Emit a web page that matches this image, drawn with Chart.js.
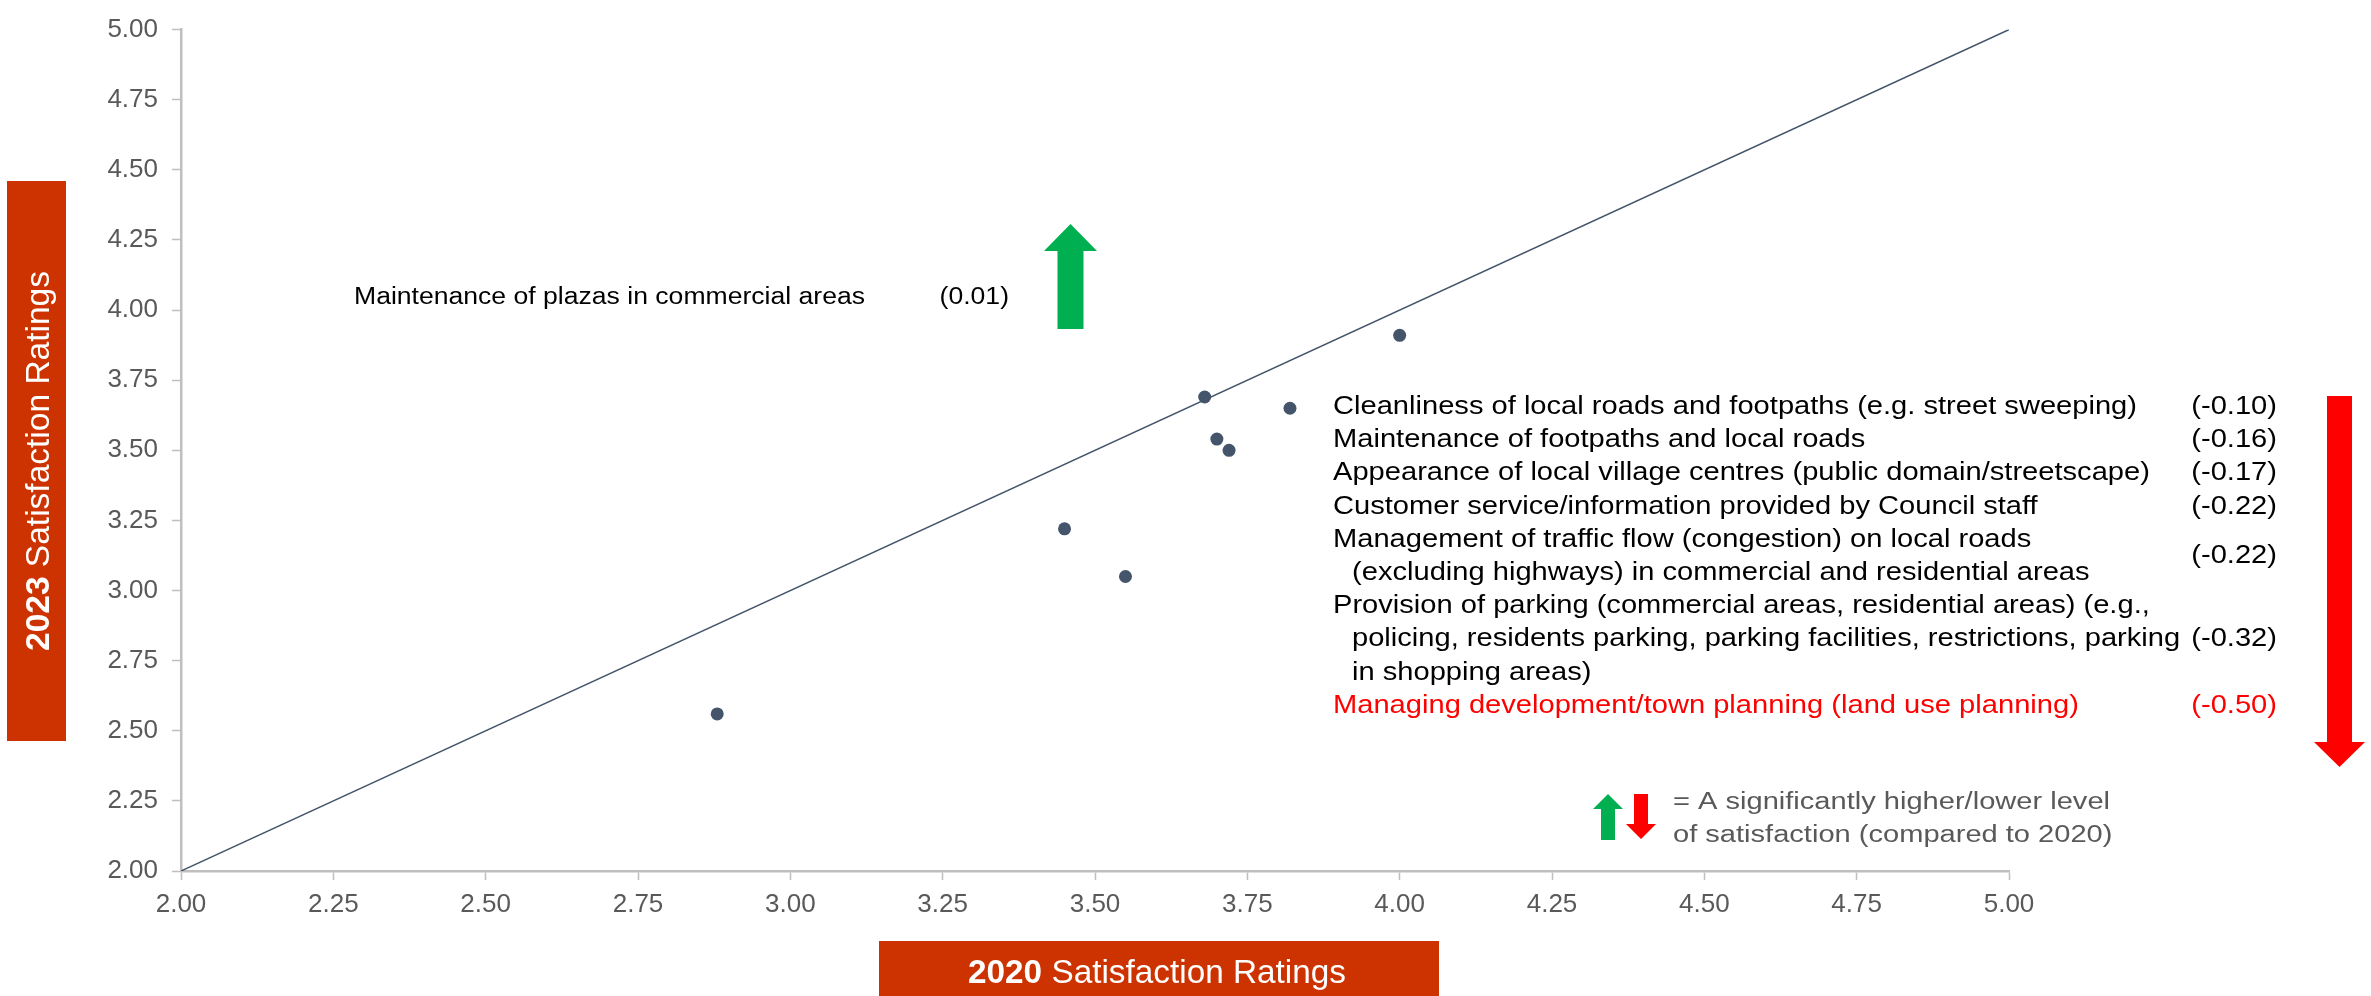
<!DOCTYPE html>
<html>
<head>
<meta charset="utf-8">
<script src="https://cdn.jsdelivr.net/npm/chart.js@4.4.0/dist/chart.umd.min.js"></script>
<style>
  body { margin: 0; background: #fff; }
  #wrap { width: 2371px; height: 996px; }
</style>
</head>
<body>
<div id="wrap"><canvas id="satChart" width="2371" height="996"></canvas></div>
<script>
// Chart data
const ratings2020 = [2.88, 3.45, 3.55, 3.68, 3.70, 3.72, 3.82, 4.00];
const ratings2023 = [2.56, 3.22, 3.05, 3.69, 3.54, 3.50, 3.65, 3.91];
const parityX = [2, 5];
const parityY = [2, 5];
const axisTicks = [2.00, 2.25, 2.50, 2.75, 3.00, 3.25, 3.50, 3.75, 4.00, 4.25, 4.50, 4.75, 5.00];

// Annotation texts
const upItems = ['Maintenance of plazas in commercial areas'];
const upChanges = ['(0.01)'];
const downItems = [
  ['Cleanliness of local roads and footpaths (e.g. street sweeping)'],
  ['Maintenance of footpaths and local roads'],
  ['Appearance of local village centres (public domain/streetscape)'],
  ['Customer service/information provided by Council staff'],
  ['Management of traffic flow (congestion) on local roads', '(excluding highways) in commercial and residential areas'],
  ['Provision of parking (commercial areas, residential areas) (e.g.,', 'policing, residents parking, parking facilities, restrictions, parking', 'in shopping areas)'],
  ['Managing development/town planning (land use planning)']
];
const downChanges = ['(-0.10)', '(-0.16)', '(-0.17)', '(-0.22)', '(-0.22)', '(-0.32)', '(-0.50)'];
const legendLines = ['= A significantly higher/lower level', 'of satisfaction (compared to 2020)'];
const yTitle = ['2023', ' Satisfaction Ratings'];
const xTitle = ['2020', ' Satisfaction Ratings'];

const FONT = '"Liberation Sans", Arial, sans-serif';
const BOX_RED = '#CC3300';
const GREEN = '#00B050';
const RED = '#FF0000';

// draw text squeezed/stretched horizontally by sx
function drawText(ctx, text, x, y, font, color, align, sx) {
  ctx.save();
  ctx.translate(x, y);
  ctx.scale(sx, 1);
  ctx.font = font;
  ctx.fillStyle = color;
  ctx.textAlign = align;
  ctx.textBaseline = 'alphabetic';
  ctx.fillText(text, 0, 0);
  ctx.restore();
}

function fitScale(ctx, text, font, target) {
  ctx.font = font;
  return target / ctx.measureText(text).width;
}

// Title with bold year then regular text, centred at 0,0 of current transform
function drawTitle(ctx, parts, target) {
  const boldFont = 'bold 33px ' + FONT;
  const regFont = '33px ' + FONT;
  ctx.font = boldFont;
  const w1 = ctx.measureText(parts[0]).width;
  ctx.font = regFont;
  const w2 = ctx.measureText(parts[1]).width;
  const sx = target / (w1 + w2);
  const start = -target / 2;
  drawText(ctx, parts[0], start, 0, boldFont, '#fff', 'left', sx);
  drawText(ctx, parts[1], start + w1 * sx, 0, regFont, '#fff', 'left', sx);
}

function arrowUp(ctx, cx, shaftW, headW, top, headBase, bottom, color) {
  ctx.fillStyle = color;
  ctx.beginPath();
  ctx.moveTo(cx, top);
  ctx.lineTo(cx + headW / 2, headBase);
  ctx.lineTo(cx + shaftW / 2, headBase);
  ctx.lineTo(cx + shaftW / 2, bottom);
  ctx.lineTo(cx - shaftW / 2, bottom);
  ctx.lineTo(cx - shaftW / 2, headBase);
  ctx.lineTo(cx - headW / 2, headBase);
  ctx.closePath();
  ctx.fill();
}

function arrowDown(ctx, cx, shaftW, headW, top, headBase, tip, color) {
  ctx.fillStyle = color;
  ctx.beginPath();
  ctx.moveTo(cx - shaftW / 2, top);
  ctx.lineTo(cx + shaftW / 2, top);
  ctx.lineTo(cx + shaftW / 2, headBase);
  ctx.lineTo(cx + headW / 2, headBase);
  ctx.lineTo(cx, tip);
  ctx.lineTo(cx - headW / 2, headBase);
  ctx.lineTo(cx - shaftW / 2, headBase);
  ctx.closePath();
  ctx.fill();
}

// Plugin for titles boxes, notes and arrows
const notesPlugin = {
  id: 'notes',
  afterDraw(chart) {
    const ctx = chart.ctx;

    // y axis title box
    ctx.fillStyle = BOX_RED;
    ctx.fillRect(7, 181, 59, 560);
    ctx.save();
    ctx.translate(49, 461);
    ctx.rotate(-Math.PI / 2);
    drawTitle(ctx, yTitle, 380);
    ctx.restore();

    // x axis title box
    ctx.fillStyle = BOX_RED;
    ctx.fillRect(879, 941, 560, 60);
    ctx.save();
    ctx.translate(1157, 983);
    drawTitle(ctx, xTitle, 378);
    ctx.restore();

    // improved item
    const upFont = '23px ' + FONT;
    const upSx = fitScale(ctx, upItems[0], upFont, 511);
    drawText(ctx, upItems[0], 354, 304, upFont, '#000', 'left', upSx);
    drawText(ctx, upChanges[0], 1009, 304, upFont, '#000', 'right', upSx);
    arrowUp(ctx, 1070.5, 26, 53, 224, 251, 329, GREEN);

    // declined items
    const listFont = '26px ' + FONT;
    const listSx = fitScale(ctx, downItems[0][0], listFont, 804);
    const lineH = 33.2;
    let line = 0;
    downItems.forEach((lines, i) => {
      const color = i === downItems.length - 1 ? RED : '#000';
      const first = 414 + line * lineH;
      lines.forEach((txt, j) => {
        const x = j === 0 ? 1333 : 1352;
        drawText(ctx, txt, x, 414 + line * lineH, listFont, color, 'left', listSx);
        line++;
      });
      const last = 414 + (line - 1) * lineH;
      drawText(ctx, downChanges[i], 2277, (first + last) / 2, listFont, color, 'right', listSx);
    });
    arrowDown(ctx, 2339.5, 25, 51, 396, 742, 767, RED);

    // legend
    arrowUp(ctx, 1608, 14, 30, 794, 809, 840, GREEN);
    arrowDown(ctx, 1641, 14, 30, 794, 824, 839, RED);
    const legFont = '23px ' + FONT;
    const legSx = fitScale(ctx, legendLines[0], legFont, 437);
    legendLines.forEach((txt, i) => {
      drawText(ctx, txt, 1673, 809 + i * 33, legFont, '#595959', 'left', legSx);
    });
  }
};

const axisGrey = '#BFBFBF';

function axisOptions() {
  return {
    type: 'linear',
    min: 2,
    max: 5,
    afterBuildTicks: (scale) => {
      scale.ticks = axisTicks.map(v => ({ value: v }));
    },
    grid: {
      display: true,
      drawOnChartArea: false,
      drawTicks: true,
      tickLength: 9,
      tickColor: axisGrey,
      tickWidth: 1.5
    },
    border: { display: true, color: axisGrey, width: 2.5 },
    ticks: {
      color: '#595959',
      font: { family: FONT, size: 26 },
      callback: (v) => Number(v).toFixed(2)
    }
  };
}

const xOpts = axisOptions();
xOpts.ticks.padding = 9;
xOpts.afterFit = (scale) => { scale.height = 125; };
const yOpts = axisOptions();
yOpts.ticks.padding = 14;
yOpts.afterFit = (scale) => { scale.width = 181; };

// Create the chart
const satChart = new Chart(document.getElementById('satChart'), {
  type: 'scatter',
  data: {
    datasets: [
      {
        label: 'Ratings',
        data: ratings2020.map((x, i) => ({ x: x, y: ratings2023[i] })),
        backgroundColor: '#44546A',
        borderWidth: 0,
        pointRadius: 6.5
      },
      {
        type: 'line',
        label: 'Parity',
        data: parityX.map((x, i) => ({ x: x, y: parityY[i] })),
        borderColor: '#44546A',
        borderWidth: 1.5,
        pointRadius: 0,
        fill: false
      }
    ]
  },
  options: {
    responsive: false,
    animation: false,
    layout: { padding: { left: 0, top: 20, right: 362, bottom: 0 } },
    plugins: {
      legend: { display: false },
      tooltip: { enabled: false }
    },
    scales: { x: xOpts, y: yOpts }
  },
  plugins: [notesPlugin]
});
</script>
</body>
</html>
